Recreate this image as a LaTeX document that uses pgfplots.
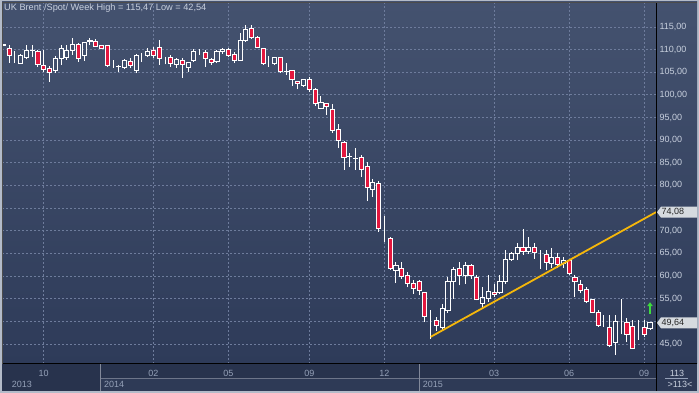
\documentclass[border=0pt]{standalone}
\usepackage{fontspec}
\setmainfont{Liberation Sans}
\usepackage{pgfplots}
\pgfplotsset{compat=1.18}
\usepackage{pgfplotstable}
\usetikzlibrary{arrows.meta}

\definecolor{bgtop}{HTML}{44526F}
\definecolor{bgbot}{HTML}{2E3B59}
\definecolor{gridc}{HTML}{6E7C9C}
\definecolor{candlered}{HTML}{E3173E}
\definecolor{lbl}{HTML}{C8D0DE}
\definecolor{mlbl}{HTML}{95A1B8}
\definecolor{framec}{HTML}{B3BBC9}
\definecolor{rowA}{HTML}{28334D}
\definecolor{rowB}{HTML}{2E3A56}
\definecolor{gold}{HTML}{F5B70A}
\definecolor{boxg}{HTML}{D6DADF}
\definecolor{arrowg}{HTML}{3DDC3D}

\newcommand\lf{\fontsize{9bp}{10.8bp}\selectfont}
\newcommand\tf{\fontsize{9.2bp}{11bp}\selectfont}

\pgfplotsset{
  geom/.style={at={(2bp,29bp)}, anchor=south west, scale only axis,
    width=654bp, height=362bp,
    xmin=-0.225, xmax=113.04, ymin=40.55, ymax=120.5},
}

\pgfplotstableread{
i O H L C
0 110.9 111.3 110.8 111.2
1 110.3 111.0 107.1 108.8
2 108.9 109.6 107.0 108.9
3 107.0 109.0 106.8 108.6
4 108.3 111.0 107.8 109.8
5 109.8 111.0 108.4 109.9
6 109.5 109.9 106.2 106.6
7 106.4 109.9 105.1 105.6
8 105.9 106.4 102.9 104.9
9 105.3 108.6 104.9 108.1
10 108.1 111.0 106.6 110.3
11 108.3 111.0 107.7 109.9
12 109.9 112.5 108.8 111.2
13 111.2 111.5 107.3 108.1
14 108.8 111.7 107.5 111.5
15 111.8 112.5 111.0 111.9
16 111.7 112.3 110.6 110.6
17 110.8 110.9 110.2 110.3
18 110.9 111.0 106.2 106.4
19 107.0 107.7 105.9 107.0
20 106.2 106.6 105.1 106.3
21 106.0 107.9 105.6 107.5
22 107.3 108.1 105.9 106.5
23 105.3 109.0 104.8 108.8
24 108.8 109.2 107.3 108.8
25 108.8 110.3 108.4 109.5
26 109.9 110.6 108.1 108.8
27 110.4 112.0 106.6 108.0
28 108.2 108.3 106.7 108.2
29 108.2 108.8 106.2 107.0
30 106.6 108.1 106.0 107.9
31 107.5 108.1 103.8 106.6
32 106.0 107.3 105.1 107.2
33 107.5 110.1 107.3 109.5
34 109.5 110.1 108.8 109.5
35 109.3 109.9 106.2 108.1
36 107.9 108.2 106.6 107.2
37 107.3 109.9 107.0 109.5
38 109.5 110.4 109.0 110.1
39 110.1 110.4 108.3 108.8
40 109.0 109.4 107.0 107.7
41 107.5 113.6 107.5 112.0
42 112.0 115.47 111.7 114.5
43 114.7 115.4 112.3 112.7
44 112.7 112.9 110.3 110.5
45 110.3 110.3 106.6 107.0
46 107.1 108.6 106.2 107.1
47 107.0 108.4 106.6 108.3
48 108.3 108.4 104.9 105.1
49 105.1 107.1 104.4 105.2
50 105.3 105.5 101.9 103.3
51 102.9 103.1 101.2 102.4
52 102.0 103.4 101.8 103.3
53 103.4 103.9 100.7 101.2
54 101.2 101.4 97.5 98.0
55 97.0 99.7 96.8 98.3
56 98.1 98.3 95.5 97.4
57 96.8 98.0 91.6 92.2
58 92.4 93.5 88.2 90.0
59 89.4 89.8 83.4 86.2
60 86.3 87.1 84.1 86.4
61 85.9 88.2 83.4 86.0
62 86.2 86.7 81.9 83.5
63 84.2 85.2 76.6 79.5
64 79.1 81.5 77.5 80.6
65 80.4 81.0 69.7 70.5
66 68.8 73.2 67.5 68.8
67 68.2 68.6 61.5 61.6
68 61.2 63.1 58.4 62.3
69 61.6 63.1 59.4 59.8
70 60.1 60.9 57.5 58.3
71 58.3 59.0 56.1 57.2
72 58.7 59.0 55.7 56.8
73 56.3 56.4 49.8 51.1
74 50.2 52.4 46.1 50.2
75 50.2 50.9 47.8 49.1
76 48.7 53.9 48.0 52.8
77 52.4 59.8 51.9 58.7
78 58.7 62.0 55.0 61.4
79 61.6 63.1 57.9 60.1
80 60.1 63.1 58.3 62.3
81 62.3 62.7 59.4 60.1
82 59.6 60.1 54.6 54.8
83 53.9 57.5 52.8 55.3
84 55.0 60.1 54.2 56.5
85 56.4 58.3 55.3 56.0
86 56.3 60.1 56.1 58.7
87 58.7 65.7 58.3 63.6
88 63.6 65.3 63.5 65.0
89 65.0 67.2 63.5 66.3
90 66.3 70.3 64.6 65.4
91 65.4 68.6 64.9 66.3
92 66.2 67.3 63.8 65.1
93 64.9 65.8 61.6 64.9
94 64.7 65.8 61.2 63.0
95 62.7 66.1 61.7 64.0
96 64.0 65.1 61.7 62.5
97 62.7 64.2 61.7 63.4
98 63.4 63.8 60.1 60.5
99 59.6 60.1 55.3 58.7
100 58.1 59.0 56.2 56.8
101 57.0 57.5 54.0 54.4
102 54.8 55.0 51.8 52.0
103 52.0 52.4 48.8 49.1
104 48.7 51.3 48.7 48.7
105 48.6 51.3 44.3 44.6
106 45.4 51.3 42.54 50.0
107 50.0 54.8 47.1 50.0
108 49.8 50.8 45.4 47.1
109 48.8 50.2 43.9 43.9
110 48.0 50.3 45.9 48.0
111 48.6 50.3 46.5 47.1
112 48.3 49.8 48.2 49.64
}\brent

\begin{document}
\begin{tikzpicture}
\useasboundingbox (0,0) rectangle (699bp,393bp);
\fill[framec] (0,0) rectangle (699bp,393bp);
\shade[top color=bgtop, bottom color=bgbot] (2bp,29bp) rectangle (697bp,391bp);
% bottom time bar
\fill[rowA] (2bp,15bp) rectangle (697bp,29bp);
\fill[rowA] (2bp,2bp) rectangle (100bp,15bp);
\fill[rowB] (100bp,2bp) rectangle (656bp,15bp);
\fill[rowB] (656bp,2bp) rectangle (697bp,29bp);
\draw[color=rowB!70!white, line width=0.6bp] (100bp,15bp) -- (656bp,15bp);
\draw[color=rowB!60!white, line width=0.6bp] (100bp,2bp) -- (100bp,29bp);
\draw[color=rowB!60!white, line width=0.6bp] (419bp,2bp) -- (419bp,29bp);

% axis 1: grid, ticks, wicks
\begin{axis}[
  geom,
  axis line style={draw=none},
  major tick length=0pt,
  xtick={7,26,39,53,66,85,98,111},
  xticklabels={10,02,05,09,12,03,06,09},
  xticklabel style={font=\lf, color=mlbl, anchor=base, yshift=-12bp},
  ytick={45,55,60,65,70,80,85,90,95,100,105,110,115},
  extra y ticks={50,75},
  extra y tick labels={},
  extra y tick style={grid=major},
  yticklabel pos=right,
  yticklabel style={font=\lf, color=lbl, anchor=west, inner sep=0pt, xshift=3.3bp,
    /pgf/number format/.cd, fixed, fixed zerofill, precision=2, use comma, assume math mode=true},
  xmajorgrids, ymajorgrids,
  major grid style={gridc, dash pattern=on 2bp off 2bp, line width=0.7bp},
]
\addplot[draw=none, mark=none, forget plot, error bars/.cd, y dir=plus, y explicit, error mark=none,
  error bar style={draw=white, line width=0.9bp}]
  table[x=i, y=L, y error expr={min(\thisrow{O},\thisrow{C})-\thisrow{L}}] {\brent};
\addplot[draw=none, mark=none, forget plot, error bars/.cd, y dir=plus, y explicit, error mark=none,
  error bar style={draw=white, line width=0.9bp}]
  table[x=i, y expr={max(\thisrow{O},\thisrow{C})}, y error expr={\thisrow{H}-max(\thisrow{O},\thisrow{C})}] {\brent};
\end{axis}

% axis 2: candle bodies
\begin{axis}[geom, hide axis, ybar stacked, bar width=0.72]
\addplot[draw=none, fill=none] table[x=i, y expr={min(\thisrow{O},\thisrow{C})}] {\brent};
\addplot[draw=white, fill=candlered, line width=0.9bp] table[x=i, y expr={max(\thisrow{O}-\thisrow{C},0)}] {\brent};
\addplot[draw=white, fill=none, line width=0.9bp] table[x=i, y expr={max(\thisrow{C}-\thisrow{O},0)}] {\brent};
\end{axis}

% axis 3: trend line, arrow
\begin{axis}[geom, hide axis]
\addplot[gold, line width=1.8bp] coordinates {(74.02,46.55) (113.04,74.08)};
\addplot[arrowg, line width=1.6bp, -{Triangle[width=5.5bp,length=4bp]}] coordinates {(112,51.7) (112,54.2)};
\coordinate (p74) at (axis cs:113.04,74.08);
\coordinate (p49) at (axis cs:113.04,49.64);
\end{axis}

% price boxes
\fill[boxg] (p74) ++(1bp,0) -- ++(4bp,5.5bp) -- ++(36bp,0) -- ++(0,-11bp) -- ++(-36bp,0) -- cycle;
\node[anchor=west, inner sep=0pt, font=\lf, color=black!85] at ([xshift=5.5bp]p74) {74,08};
\fill[boxg] (p49) ++(1bp,0) -- ++(4bp,5.5bp) -- ++(36bp,0) -- ++(0,-11bp) -- ++(-36bp,0) -- cycle;
\node[anchor=west, inner sep=0pt, font=\lf, color=black!85] at ([xshift=5.5bp]p49) {49,64};

% frame lines
\draw[black, line width=1bp] (656bp,2bp) -- (656bp,391bp);
\draw[black, line width=1bp] (2bp,29bp) -- (697bp,29bp);
\draw[color=black!70, line width=0.6bp] (2.3bp,29bp) -- (2.3bp,390.7bp) -- (697bp,390.7bp);

% title
\node[anchor=base west, inner sep=0pt, font=\tf, color=lbl] at (4bp,382bp) {UK Brent /Spot/ Week High = 115,47 Low = 42,54};
% year labels
\node[anchor=base west, inner sep=0pt, font=\lf, color=mlbl] at (11.7bp,5.7bp) {2013};
\node[anchor=base west, inner sep=0pt, font=\lf, color=mlbl] at (104bp,5.7bp) {2014};
\node[anchor=base west, inner sep=0pt, font=\lf, color=mlbl] at (422.7bp,5.7bp) {2015};
% bar count box
\node[anchor=base, inner sep=0pt, font=\lf, color=lbl] at (677bp,17bp) {113};
\draw[color=mlbl, line width=0.6bp] (665bp,15bp) -- (688bp,15bp);
\node[anchor=base, inner sep=0pt, font=\lf, color=lbl] at (680bp,6bp) {>113<};
\end{tikzpicture}
\end{document}
